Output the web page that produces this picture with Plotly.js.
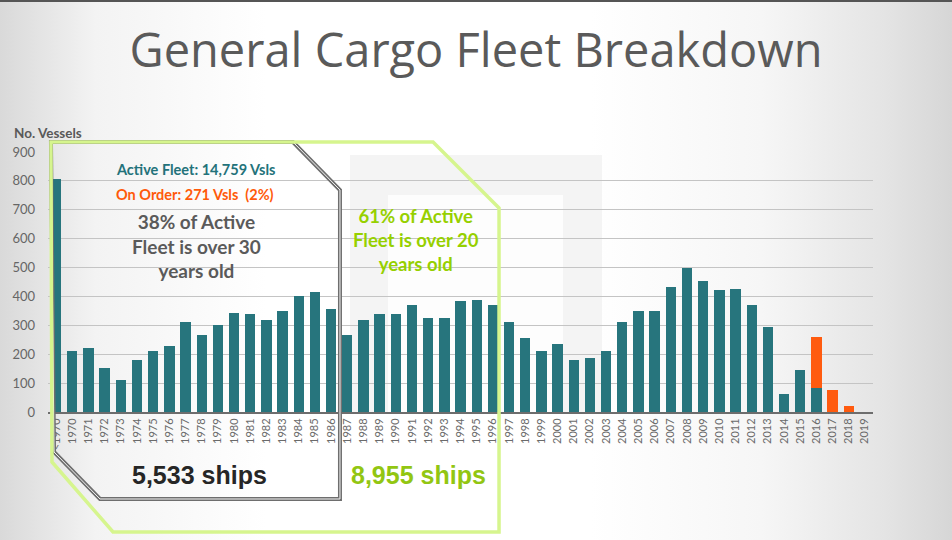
<!DOCTYPE html>
<html>
<head>
<meta charset="utf-8">
<script src="https://cdn.plot.ly/plotly-3.0.1.min.js"></script>
<style>
html,body{margin:0;padding:0;}
body{width:952px;height:540px;overflow:hidden;
background:linear-gradient(to right,#d9d9d9 0%,#f3f3f3 10%,#ffffff 28%,#ffffff 62%,#f6f6f6 80%,#e4e4e4 93%,#d6d6d6 100%);
border-top:2px solid #555;box-sizing:border-box;}
#chart{width:952px;height:538px;}
</style>
</head>
<body>
<div id="chart"></div>
<script>
const years = ["<1970","1970","1971","1972","1973","1974","1975","1976","1977","1978","1979","1980","1981","1982","1983","1984","1985","1986","1987","1988","1989","1990","1991","1992","1993","1994","1995","1996","1997","1998","1999","2000","2001","2002","2003","2004","2005","2006","2007","2008","2009","2010","2011","2012","2013","2014","2015","2016","2017","2018","2019"];
const activeFleet = [807,210,222,153,112,179,212,229,310,267,302,341,340,317,350,403,414,357,267,320,338,338,369,324,327,383,386,369,310,257,212,236,179,188,212,313,351,348,431,500,452,421,426,372,295,61,145,83,0,0,0];
const onOrder = [0,0,0,0,0,0,0,0,0,0,0,0,0,0,0,0,0,0,0,0,0,0,0,0,0,0,0,0,0,0,0,0,0,0,0,0,0,0,0,0,0,0,0,0,0,0,0,175,75,20,0];
const yTicks = [0,100,200,300,400,500,600,700,800,900];

const OFF=2;
const L=48,R=873,T=150,B=410;
const fx=p=>(p-L)/(R-L);
const fy=p=>(B-(p-OFF))/(B-T);
function path(pts){return pts.map((p,i)=>(i?'L':'M')+fx(p[0]).toFixed(4)+','+fy(p[1]).toFixed(4)).join(' ')+' Z';}

const green=[[51,142],[433,142],[499,208],[499,532],[113,532],[52,462]];
const gray=[[51,142],[293,142],[340,190],[340,499],[100,499],[54,452]];

const shapes=[
 {type:'rect',xref:'paper',yref:'paper',x0:fx(350),x1:fx(602),y0:fy(412),y1:fy(155),fillcolor:'#f4f4f4',line:{width:0},layer:'below'},
 {type:'rect',xref:'paper',yref:'paper',x0:fx(388),x1:fx(563),y0:fy(412),y1:fy(195),fillcolor:'#fdfdfd',line:{width:0},layer:'below'},
 {type:'path',xref:'paper',yref:'paper',path:path(gray),line:{color:'#6e6e6e',width:4},layer:'above'},
 {type:'path',xref:'paper',yref:'paper',path:path(gray),line:{color:'#f4f4f4',width:1},layer:'above'},
 {type:'path',xref:'paper',yref:'paper',path:path(green),line:{color:'#d6f58e',width:3.5},layer:'above'}
];

function ann(text,x,y,size,color,family){
 return {xref:'paper',yref:'paper',x:fx(x),y:fy(y),text:text,showarrow:false,xanchor:'center',yanchor:'middle',
  font:{size:size,color:color,family:family||'Lato, sans-serif'},align:'center'};
}
const annotations=[
 ann('<b>Active Fleet: 14,759 Vsls</b>',195,169,14.5,'#23727a'),
 ann('<b>On Order: 271 Vsls  (2%)</b>',195,194,14.5,'#ff5a0a'),
 ann('<b>38% of Active<br>Fleet is over 30<br>years old</b>',196,246,19,'#5a5a5a'),
 ann('<b>61% of Active<br>Fleet is over 20<br>years old</b>',416,240,18.5,'#96d000'),
 ann('<b>5,533 ships</b>',199,475,25,'#262626','Liberation Sans, Arial, sans-serif'),
 ann('<b>8,955 ships</b>',418,475,25,'#92c612','Liberation Sans, Arial, sans-serif'),
 {xref:'paper',yref:'paper',x:fx(12),y:fy(133),xanchor:'left',yanchor:'middle',showarrow:false,
  text:'<b>No. Vessels</b>',font:{size:13.5,color:'#595959',family:'Lato, sans-serif'}}
];

const data=[
 {type:'bar',x:years,y:activeFleet,name:'Active',marker:{color:'#27757d'},hoverinfo:'x+y'},
 {type:'bar',x:years,y:onOrder,name:'On Order',marker:{color:'#ff5b0f'},hoverinfo:'x+y'}
];

const layout={
 width:952,height:538,
 margin:{l:L,r:952-R,t:T,b:538-B,pad:0},
 paper_bgcolor:'rgba(0,0,0,0)',plot_bgcolor:'rgba(0,0,0,0)',
 barmode:'stack',bargap:0.36,showlegend:false,
 title:{text:'General Cargo Fleet Breakdown',x:0.5,xref:'container',xanchor:'center',y:0.91,yref:'container',yanchor:'middle',
  font:{family:'Open Sans, sans-serif',size:47,color:'#5a5a5a'}},
 xaxis:{type:'category',tickangle:-90,tickfont:{family:'Lato, sans-serif',size:11,color:'#6a6a6a'},
  showline:true,linecolor:'#6d6d6d',linewidth:2,ticks:'',showgrid:false,automargin:false},
 yaxis:{range:[0,900],tickvals:yTicks,tickfont:{family:'Lato, sans-serif',size:13,color:'#666'},
  gridcolor:'#c4c4c4',gridwidth:1,zeroline:false,showline:false,ticks:'',ticklabelstandoff:12,automargin:false},
 shapes:shapes,annotations:annotations
};
Plotly.newPlot('chart',data,layout,{displayModeBar:false,staticPlot:true});
</script>
</body>
</html>
